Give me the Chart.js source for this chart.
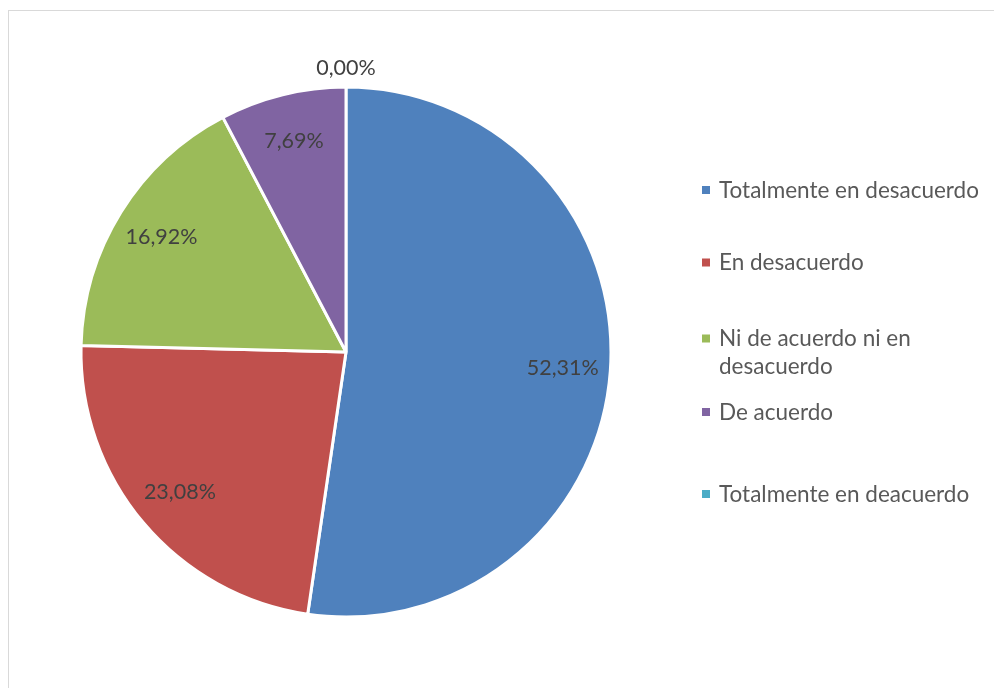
<!DOCTYPE html>
<html>
<head>
<meta charset="utf-8">
<script src="https://cdn.jsdelivr.net/npm/chart.js@4.4.1/dist/chart.umd.min.js"></script>
<style>
  html, body { margin: 0; padding: 0; background: #ffffff; overflow: hidden; }
  #wrap { position: relative; width: 994px; height: 688px; }
  #frame { position: absolute; left: 8px; top: 10px; width: 1000px; height: 700px;
           border: 1px solid #d9d9d9; box-sizing: border-box; }
  #c { position: absolute; left: 0; top: 0; }
</style>
</head>
<body>
<div id="wrap">
  <div id="frame"></div>
  <canvas id="c" width="994" height="688"></canvas>
</div>
<script>
// Survey answers and their share of responses (%)
const categories = [
  'Totalmente en desacuerdo',
  'En desacuerdo',
  'Ni de acuerdo ni en desacuerdo',
  'De acuerdo',
  'Totalmente en deacuerdo'
];
const legendLines = [
  ['Totalmente en desacuerdo'],
  ['En desacuerdo'],
  ['Ni de acuerdo ni en', 'desacuerdo'],
  ['De acuerdo'],
  ['Totalmente en deacuerdo']
];
const percentages = [52.31, 23.08, 16.92, 7.69, 0.00];
const sliceColors = ['#4F81BD', '#C0504D', '#9BBB59', '#8064A2', '#4BACC6'];

const FONT = 'Lato, "Open Sans", sans-serif';

function fmtPct(v) {
  return v.toFixed(2).replace('.', ',') + '%';
}

// Percentage labels placed along each slice's middle angle
const sliceLabels = {
  id: 'sliceLabels',
  afterDatasetsDraw(chart) {
    const ctx = chart.ctx;
    const meta = chart.getDatasetMeta(0);
    const values = chart.data.datasets[0].data;
    ctx.save();
    ctx.font = '21.5px ' + FONT;
    ctx.fillStyle = '#404040';
    ctx.textAlign = 'center';
    ctx.textBaseline = 'middle';
    meta.data.forEach((arc, i) => {
      const p = arc.getProps(['x', 'y', 'startAngle', 'endAngle', 'outerRadius'], true);
      const mid = (p.startAngle + p.endAngle) / 2;
      const r = values[i] > 0 ? p.outerRadius * 0.82 : p.outerRadius + 19;
      ctx.fillText(fmtPct(values[i]), p.x + Math.cos(mid) * r, p.y + Math.sin(mid) * r);
    });
    ctx.restore();
  }
};

// Legend to the right of the pie
const sideLegend = {
  id: 'sideLegend',
  afterDraw(chart) {
    const ctx = chart.ctx;
    const colors = chart.data.datasets[0].backgroundColor;
    const baselines = [197.5, 270, 346, 419.5, 501.5];
    const lineGap = 27.5;
    ctx.save();
    ctx.font = '22.5px ' + FONT;
    ctx.textAlign = 'left';
    ctx.textBaseline = 'alphabetic';
    legendLines.forEach((lines, i) => {
      const b = baselines[i];
      ctx.fillStyle = colors[i];
      ctx.fillRect(702, b - 11.5, 8, 8);
      ctx.fillStyle = '#595959';
      lines.forEach((t, k) => ctx.fillText(t, 719, b + k * lineGap));
    });
    ctx.restore();
  }
};

new Chart(document.getElementById('c'), {
  type: 'pie',
  data: {
    labels: categories,
    datasets: [{
      data: percentages,
      backgroundColor: sliceColors,
      borderColor: '#ffffff',
      borderWidth: 3,
      hoverOffset: 0
    }]
  },
  options: {
    responsive: false,
    animation: false,
    events: [],
    layout: { padding: { left: 79.5, top: 85.5, right: 381.5, bottom: 69.5 } },
    plugins: {
      legend: { display: false },
      tooltip: { enabled: false },
      title: { display: false }
    }
  },
  plugins: [sliceLabels, sideLegend]
});
</script>
</body>
</html>
